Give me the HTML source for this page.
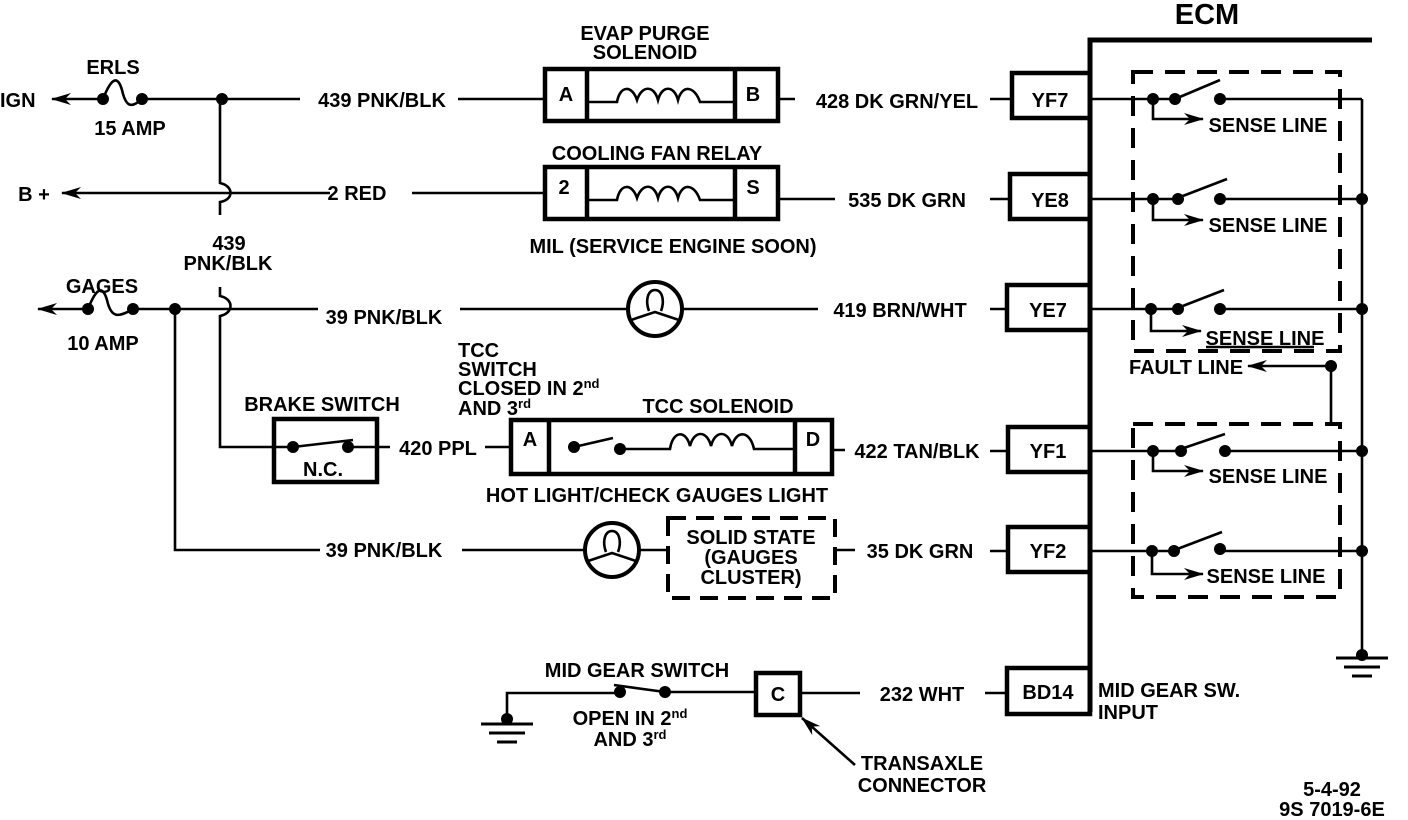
<!DOCTYPE html>
<html><head><meta charset="utf-8"><style>
html,body{margin:0;padding:0;background:#fff}
svg{display:block}
text{font-family:"Liberation Sans",sans-serif;font-weight:bold;font-size:20px;fill:#000}
.c{text-anchor:middle}
</style></head><body>
<svg width="1408" height="820" viewBox="0 0 1408 820" xmlns="http://www.w3.org/2000/svg">
<defs>
<marker id="ar" markerWidth="20" markerHeight="12" refX="19" refY="6" orient="auto" markerUnits="userSpaceOnUse"><path d="M0,0 L20,6 L0,12 L6,6 Z" fill="#000"/></marker>
</defs>
<g stroke="#000" stroke-width="2.6" fill="none">
<path d="M1090,712 V40 H1372" stroke-width="5"/>
<path d="M1362,99 V655"/>
<path d="M1336,658 H1388 M1344,667 H1380 M1352,676 H1372" stroke-width="3"/>
<rect x="1133" y="72" width="207" height="279" stroke-width="4" stroke-dasharray="20,12"/>
<rect x="1133" y="424" width="207" height="173" stroke-width="4" stroke-dasharray="20,12"/>
<rect x="1012" y="73" width="78" height="45" stroke-width="4.5"/>
<rect x="1010" y="174" width="80" height="45" stroke-width="4.5"/>
<rect x="1007" y="285" width="83" height="45" stroke-width="4.5"/>
<rect x="1008" y="427" width="82" height="45" stroke-width="4.5"/>
<rect x="1008" y="527" width="82" height="45" stroke-width="4.5"/>
<rect x="1007" y="668" width="83" height="46" stroke-width="4.5"/>
<path d="M1090,99 H1175 M1220,99 H1362"/>
<path d="M1090,199 H1175 M1220,199 H1362"/>
<path d="M1090,309 H1175 M1220,309 H1362"/>
<path d="M1090,451 H1175 M1220,451 H1362"/>
<path d="M1090,551 H1175 M1220,551 H1362"/>
<path d="M1175,99 L1220,80 M1175,199 L1227,179 M1175,309 L1224,290 M1175,451 L1225,434 M1172,551 L1222,532"/>
<path d="M1153,99 V119 H1203" marker-end="url(#ar)"/>
<path d="M1153,199 V220 H1203" marker-end="url(#ar)"/>
<path d="M1151,309 V331 H1201" marker-end="url(#ar)"/>
<path d="M1153,451 V471 H1203" marker-end="url(#ar)"/>
<path d="M1152,551 V574 H1203" marker-end="url(#ar)"/>
<path d="M1331,424 V366 H1248" marker-end="url(#ar)"/>
<path d="M1206,347 H1314"/>
<path d="M100,99 H52" marker-end="url(#ar)"/>
<path d="M103,99 C112,76 118,76 122,90 C126,108 132,108 142,99"/>
<path d="M142,99 H300 M458,99 H545"/>
<path d="M220,99 V183 C234,186 234,200 220,202 V215"/>
<path d="M220,287 V296 C234,299 234,313 220,316 V447 H290"/>
<path d="M330,193 H62" marker-end="url(#ar)"/>
<path d="M412,193 H545"/>
<path d="M86,309 H38" marker-end="url(#ar)"/>
<path d="M88,309 C97,286 103,286 107,300 C111,318 118,318 133,309"/>
<path d="M133,309 H318 M460,309 H628 M682,309 H818 M990,309 H1007"/>
<path d="M175,309 V550 H320 M462,550 H585 M639,550 H667"/>
<rect x="545" y="69" width="233" height="52" stroke-width="4.5"/>
<path d="M587,69 V121 M735,69 V121" stroke-width="4.5"/>
<path d="M587,102 H617 C620,85 632,85 637,100 C642,85 654,85 658,100 C662,85 674,85 678,100 C682,85 694,85 700,102 H735"/>
<path d="M778,99 H795 M990,99 H1012"/>
<rect x="545" y="167" width="233" height="52" stroke-width="4.5"/>
<path d="M587,167 V219 M735,167 V219" stroke-width="4.5"/>
<path d="M587,200 H617 C620,183 632,183 637,198 C642,183 654,183 658,198 C662,183 674,183 678,198 C682,183 694,183 700,200 H735"/>
<path d="M778,199 H835 M990,199 H1010"/>
<circle cx="655" cy="309" r="27" stroke-width="4"/>
<path d="M631,320 L655,312 L679,320 M649,311 C645,300 648,290 655,290 C662,290 665,300 661,311" />
<circle cx="612" cy="550" r="27" stroke-width="4"/>
<path d="M588,561 L612,553 L636,561 M606,552 C602,541 605,531 612,531 C619,531 622,541 618,552"/>
<rect x="668" y="518" width="167" height="80" stroke-width="4" stroke-dasharray="18,10"/>
<path d="M835,550 H855 M990,551 H1008"/>
<rect x="274" y="419" width="103" height="63" stroke-width="4.5"/>
<path d="M293,447 L353,440 M353,447 H377 M377,447 H390 M485,447 H510"/>
<rect x="511" y="420" width="321" height="54" stroke-width="4.5"/>
<path d="M549,420 V474 M795,420 V474" stroke-width="4.5"/>
<path d="M574,447 L613,438 M620,449 H670 C673,430 686,430 690,446 C694,430 707,430 711,446 C715,430 728,430 732,446 C736,430 750,430 754,449 H795"/>
<path d="M832,450 H845 M990,451 H1008"/>
<path d="M507,718 V693 H620 M614,685 L665,692 M665,692 H755 M800,693 H860 M985,693 H1007"/>
<rect x="756" y="673" width="44" height="42" stroke-width="4.5"/>
<path d="M855,765 L802,718" marker-end="url(#ar)"/>
<path d="M481,724 H533 M489,733 H525 M497,742 H517" stroke-width="3"/>
</g>
<g fill="#000">
<circle cx="103" cy="99" r="6"/><circle cx="142" cy="99" r="6"/><circle cx="222" cy="99" r="6"/>
<circle cx="88" cy="309" r="6"/><circle cx="133" cy="309" r="6"/><circle cx="175" cy="309" r="6"/>
<circle cx="293" cy="447" r="6"/><circle cx="348" cy="447" r="6"/>
<circle cx="574" cy="447" r="6"/><circle cx="620" cy="449" r="6"/>
<circle cx="620" cy="692" r="6"/><circle cx="665" cy="692" r="6"/>
<circle cx="507" cy="719" r="6"/><circle cx="1362" cy="655" r="6"/>
<circle cx="1153" cy="99" r="6"/><circle cx="1175" cy="99" r="6"/><circle cx="1220" cy="99" r="6"/>
<circle cx="1153" cy="199" r="6"/><circle cx="1178" cy="199" r="6"/><circle cx="1220" cy="199" r="6"/><circle cx="1362" cy="199" r="6"/>
<circle cx="1151" cy="309" r="6"/><circle cx="1178" cy="309" r="6"/><circle cx="1220" cy="309" r="6"/><circle cx="1362" cy="309" r="6"/>
<circle cx="1153" cy="451" r="6"/><circle cx="1181" cy="451" r="6"/><circle cx="1225" cy="451" r="6"/><circle cx="1362" cy="451" r="6"/>
<circle cx="1152" cy="551" r="6"/><circle cx="1174" cy="551" r="6"/><circle cx="1220" cy="549" r="6"/><circle cx="1362" cy="551" r="6"/>
<circle cx="1331" cy="366" r="6"/>
</g>
<text x="1207" y="24" class="c" style="font-size:29px">ECM</text>
<text x="1050" y="107" class="c">YF7</text>
<text x="1050" y="207" class="c">YE8</text>
<text x="1048" y="317" class="c">YE7</text>
<text x="1048" y="458" class="c">YF1</text>
<text x="1048" y="558" class="c">YF2</text>
<text x="1048" y="699" class="c">BD14</text>
<text x="1268" y="132" class="c">SENSE LINE</text>
<text x="1268" y="232" class="c">SENSE LINE</text>
<text x="1265" y="345" class="c">SENSE LINE</text>
<text x="1268" y="483" class="c">SENSE LINE</text>
<text x="1266" y="583" class="c">SENSE LINE</text>
<text x="1186" y="374" class="c">FAULT LINE</text>
<text x="0" y="107">IGN</text>
<text x="113" y="74" class="c">ERLS</text>
<text x="130" y="135" class="c">15 AMP</text>
<text x="382" y="107" class="c">439 PNK/BLK</text>
<text x="34" y="201" class="c">B +</text>
<text x="357" y="200" class="c">2 RED</text>
<text x="229" y="250" class="c">439</text>
<text x="228" y="270" class="c">PNK/BLK</text>
<text x="102" y="293" class="c">GAGES</text>
<text x="103" y="350" class="c">10 AMP</text>
<text x="384" y="324" class="c">39 PNK/BLK</text>
<text x="384" y="557" class="c">39 PNK/BLK</text>
<text x="645" y="40" class="c">EVAP PURGE</text>
<text x="645" y="59" class="c">SOLENOID</text>
<text x="566" y="101" class="c">A</text>
<text x="753" y="101" class="c">B</text>
<text x="897" y="108" class="c">428 DK GRN/YEL</text>
<text x="657" y="160" class="c">COOLING FAN RELAY</text>
<text x="564" y="194" class="c">2</text>
<text x="753" y="194" class="c">S</text>
<text x="907" y="207" class="c">535 DK GRN</text>
<text x="673" y="253" class="c">MIL (SERVICE ENGINE SOON)</text>
<text x="900" y="317" class="c">419 BRN/WHT</text>
<text x="322" y="411" class="c">BRAKE SWITCH</text>
<text x="323" y="476" class="c">N.C.</text>
<text x="438" y="455" class="c">420 PPL</text>
<text x="458" y="357">TCC</text>
<text x="458" y="376">SWITCH</text>
<text x="458" y="395">CLOSED IN 2<tspan dy="-7" style="font-size:13px">nd</tspan></text>
<text x="458" y="415">AND 3<tspan dy="-7" style="font-size:13px">rd</tspan></text>
<text x="718" y="413" class="c">TCC SOLENOID</text>
<text x="530" y="446" class="c">A</text>
<text x="813" y="446" class="c">D</text>
<text x="917" y="458" class="c">422 TAN/BLK</text>
<text x="657" y="502" class="c">HOT LIGHT/CHECK GAUGES LIGHT</text>
<text x="751" y="544" class="c">SOLID STATE</text>
<text x="751" y="564" class="c">(GAUGES</text>
<text x="751" y="584" class="c">CLUSTER)</text>
<text x="920" y="558" class="c">35 DK GRN</text>
<text x="637" y="677" class="c">MID GEAR SWITCH</text>
<text x="630" y="725" class="c">OPEN IN 2<tspan dy="-7" style="font-size:13px">nd</tspan></text>
<text x="630" y="746" class="c">AND 3<tspan dy="-7" style="font-size:13px">rd</tspan></text>
<text x="778" y="701" class="c">C</text>
<text x="922" y="701" class="c">232 WHT</text>
<text x="1098" y="697">MID GEAR SW.</text>
<text x="1098" y="719">INPUT</text>
<text x="922" y="770" class="c">TRANSAXLE</text>
<text x="922" y="792" class="c">CONNECTOR</text>
<text x="1332" y="796" class="c">5-4-92</text>
<text x="1332" y="816" class="c">9S 7019-6E</text>
</svg>
</body></html>
